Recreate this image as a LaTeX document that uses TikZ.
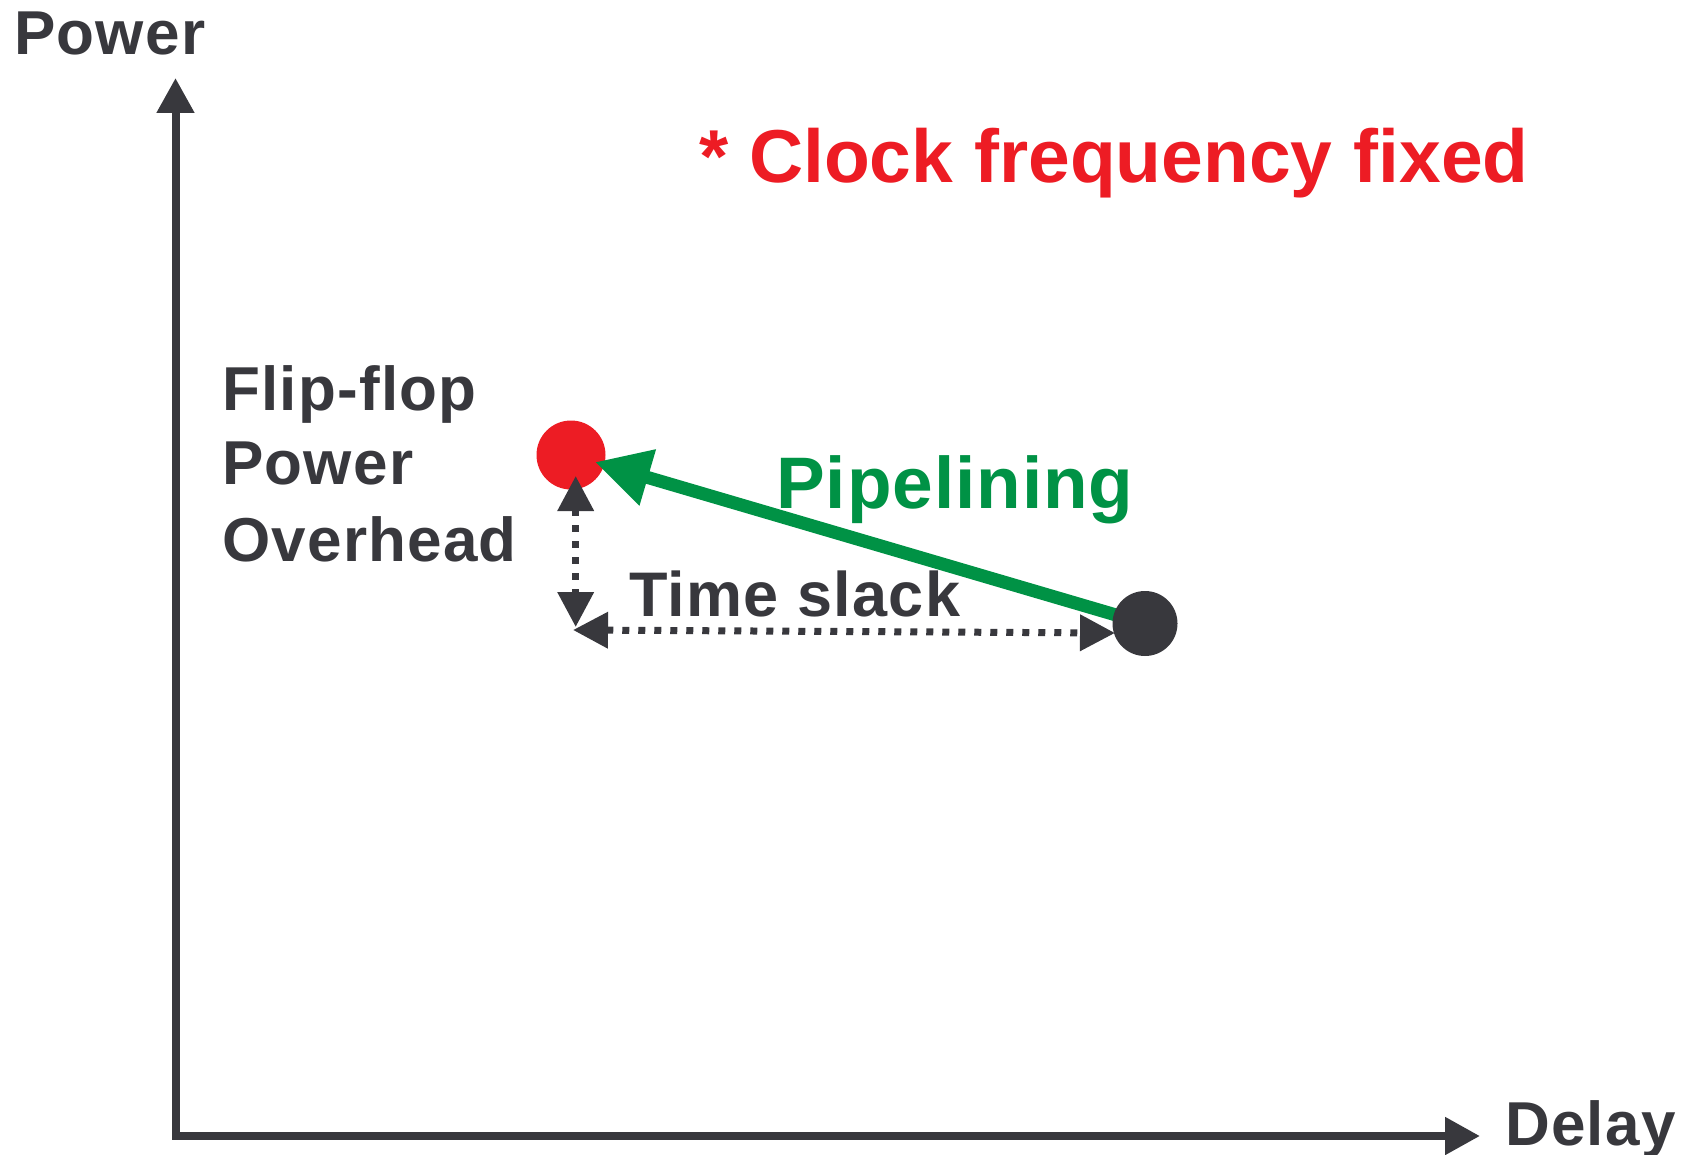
\documentclass[tikz,border=0pt]{standalone}
\usepackage{fontspec}
\setmainfont{Liberation Sans}
\newfontfamily\spacedsans[LetterSpace=2]{Liberation Sans}
\newfontfamily\midsans[LetterSpace=1.3]{Liberation Sans}
\usetikzlibrary{arrows.meta}
\definecolor{ink}{RGB}{56,56,61}
\definecolor{hotred}{RGB}{237,28,36}
\definecolor{pipegreen}{RGB}{0,146,69}
\begin{document}
\begin{tikzpicture}[x=1pt,y=-1pt,
  lbl/.style={inner sep=0pt, anchor=base west, text=ink, font=\spacedsans\bfseries\fontsize{62}{74}\selectfont},
  axisline/.style={draw=ink, line width=8pt, {Triangle[length=35pt,width=36pt]}-{Triangle[length=35pt,width=36pt]}},
  dotarr/.style={draw=ink, line width=7pt, dash pattern=on 7pt off 9pt, {Triangle[length=35pt,width=35pt]}-{Triangle[length=35pt,width=35pt]}},
  greenarr/.style={draw=pipegreen, line width=13pt, -{Triangle[length=55pt,width=55pt]}},
  dot/.style={circle, inner sep=0pt, draw=none}
]
\useasboundingbox (0,0) rectangle (1688,1155);
% axes
\coordinate (origin) at (175.5,1136);
\coordinate (ytop) at (175.5,78);
\coordinate (xend) at (1480,1136);
\draw[axisline] (ytop) -- (origin) -- (xend);
% points
\node[dot, fill=hotred, minimum size=69pt] (ff) at (571,455) {};
\coordinate (gtip) at (595,462);
\coordinate (vtop) at (575.7,476);
\coordinate (vbot) at (575.7,627);
\coordinate (hleft) at (573,630);
\coordinate (hright) at (1115,633);
\coordinate (darkc) at (1145,623.5);
\draw[greenarr] (darkc) -- (gtip);
\draw[dotarr] (vtop) -- (vbot);
\draw[dotarr] (hleft) -- (hright);
\node[dot, fill=ink, minimum size=65pt] (orig) at (darkc) {};
% labels
\node[lbl] (ylabel) at (14,55) {Power};
\node[lbl] (xlabel) at (1505,1145) {Delay};
\node[lbl, text=hotred, font=\bfseries\fontsize{75}{90}\selectfont] (note) at (699,183) {* Clock frequency fixed};
\node[lbl] (ff1) at (222,410) {Flip-flop};
\node[lbl] (ff2) at (222,484) {Power};
\node[lbl] (ff3) at (222,561) {Overhead};
\node[lbl, text=pipegreen, font=\midsans\bfseries\fontsize{73}{88}\selectfont] (pipe) at (776,508) {Pipelining};
\node[lbl, font=\spacedsans\bfseries\fontsize{63}{76}\selectfont] (slack) at (629,616) {Time slack};
\end{tikzpicture}
\end{document}
